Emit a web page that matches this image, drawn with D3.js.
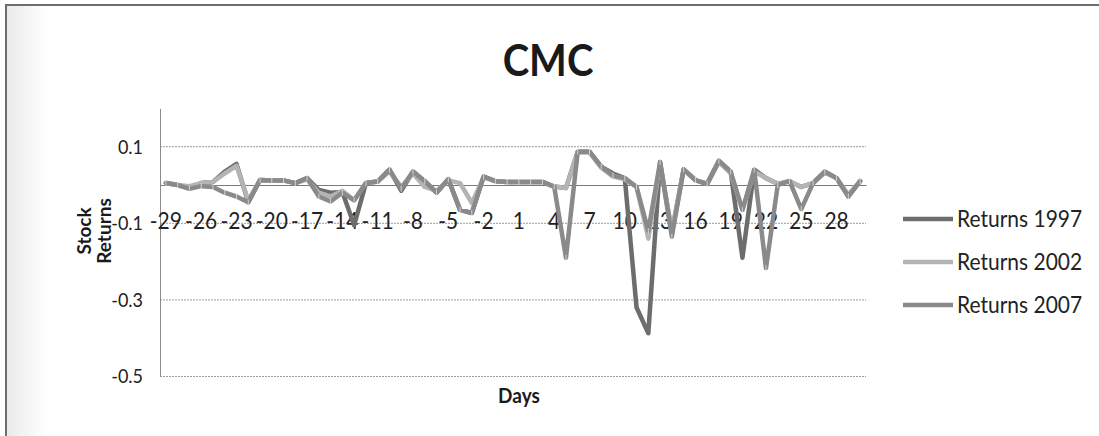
<!DOCTYPE html>
<html>
<head>
<meta charset="utf-8">
<script src="https://cdn.jsdelivr.net/npm/d3@7/dist/d3.min.js"></script>
<style>
  html, body { margin: 0; padding: 0; background: #fff; }
  svg { display: block; font-family: Lato, "Open Sans", sans-serif; }
  /* slightly tall lettering, like the printed chart */
  .tall { transform-box: fill-box; transform-origin: center; transform: scaleY(1.1); }
</style>
</head>
<body>
<svg id="chart" width="1099" height="436"></svg>
<script>
// Event-window days and the tick labels shown on the category axis
const days = [-29,-28,-27,-26,-25,-24,-23,-22,-21,-20,-19,-18,-17,-16,-15,-14,-13,-12,-11,-10,
              -9,-8,-7,-6,-5,-4,-3,-2,-1,0,1,2,3,4,5,6,7,8,9,10,
              11,12,13,14,15,16,17,18,19,20,21,22,23,24,25,26,27,28,29,30];
const xTickDays = [-29,-26,-23,-20,-17,-14,-11,-8,-5,-2,1,4,7,10,13,16,19,22,25,28];
const yTickValues = [0.1, -0.1, -0.3, -0.5];
const yTickLabels = ["0.1", "-0.1", "-0.3", "-0.5"];

// Daily stock returns per year
const returns1997 = [
  0.005, 0.000, -0.008, 0.005, 0.008, 0.035, 0.055, -0.045, 0.013, 0.012,
  0.012, 0.005, 0.018, -0.013, -0.020, -0.018, -0.105, 0.005, 0.009, 0.040,
  -0.015, 0.035, 0.010, -0.020, 0.015, -0.065, -0.073, 0.022, 0.010, 0.008,
  0.008, 0.008, 0.008, -0.004, -0.008, 0.087, 0.087, 0.048, 0.030, 0.018,
  -0.320, -0.387, 0.060, -0.125, 0.041, 0.013, 0.003, 0.063, 0.035, -0.190,
  0.040, 0.018, 0.003, 0.010, -0.005, 0.005, 0.035, 0.018, -0.030, 0.010
];
const returns2002 = [
  0.005, 0.000, -0.003, 0.005, 0.008, 0.030, 0.050, -0.040, 0.013, 0.012,
  0.012, 0.005, 0.015, -0.020, -0.030, -0.015, -0.040, 0.005, 0.009, 0.035,
  -0.005, 0.030, -0.005, -0.015, 0.012, 0.005, -0.047, 0.020, 0.010, 0.008,
  0.008, 0.008, 0.008, -0.004, -0.008, 0.085, 0.085, 0.045, 0.022, 0.015,
  -0.005, -0.140, 0.055, -0.120, 0.040, 0.012, 0.003, 0.060, 0.030, -0.065,
  0.035, 0.018, 0.003, 0.010, -0.005, 0.005, 0.032, 0.018, -0.025, 0.010
];
const returns2007 = [
  0.005, 0.000, -0.010, -0.003, -0.005, -0.020, -0.030, -0.045, 0.013, 0.012,
  0.012, 0.005, 0.018, -0.030, -0.043, -0.020, -0.040, 0.005, 0.009, 0.040,
  -0.010, 0.035, 0.010, -0.020, 0.015, -0.065, -0.073, 0.022, 0.010, 0.008,
  0.008, 0.008, 0.008, -0.004, -0.190, 0.087, 0.087, 0.048, 0.025, 0.018,
  -0.005, -0.120, 0.060, -0.135, 0.041, 0.013, 0.003, 0.063, 0.035, -0.065,
  0.040, -0.217, 0.000, 0.010, -0.063, 0.005, 0.035, 0.018, -0.030, 0.010
];

const seriesNames = ["Returns 1997", "Returns 2002", "Returns 2007"];
const seriesValues = [returns1997, returns2002, returns2007];
const seriesColors = ["#6d6d6d", "#b4b4b4", "#8a8a8a"];

const svg = d3.select("#chart");

// Faint shading along the left edge of the page
const defs = svg.append("defs");
const grad = defs.append("linearGradient").attr("id", "edgeShade")
  .attr("x1", "0").attr("x2", "1").attr("y1", "0").attr("y2", "0");
grad.append("stop").attr("offset", "0%").attr("stop-color", "#e2e2e2");
grad.append("stop").attr("offset", "100%").attr("stop-color", "#ffffff");
svg.append("rect").attr("x", 7).attr("y", 6).attr("width", 40).attr("height", 430)
  .attr("fill", "url(#edgeShade)").attr("opacity", 0.7);

// Chart frame
svg.append("rect").attr("x", 6).attr("y", 5).attr("width", 1100).attr("height", 440)
  .attr("fill", "none").attr("stroke", "#6e6e6e").attr("stroke-width", 2);

const plot = { left: 160, right: 866, top: 108.4, bottom: 376.5 };

const x = d3.scaleBand().domain(days).range([plot.left, plot.right]).padding(0);
const cx = d => x(d) + x.bandwidth() / 2;
const y = d3.scaleLinear().domain([-0.5, 0.2]).range([plot.bottom, plot.top]);

// Horizontal gridlines
svg.append("g").selectAll("line").data(yTickValues).join("line")
  .attr("x1", plot.left).attr("x2", plot.right)
  .attr("y1", d => y(d)).attr("y2", d => y(d))
  .attr("stroke", "#9c9c9c").attr("stroke-width", 1).attr("stroke-dasharray", "2,1");

// Value axis
const yAxis = d3.axisLeft(y).tickValues(yTickValues)
  .tickFormat((d, i) => yTickLabels[i]).tickSize(0).tickPadding(17);
const gy = svg.append("g").attr("transform", `translate(${plot.left},0)`).call(yAxis);
gy.select(".domain").attr("stroke", "#8a8a8a");
gy.selectAll("text").attr("class", "tall").attr("font-size", 18)
  .attr("fill", "#222").attr("font-family", "Lato, sans-serif");

// Category axis crossing at zero
const xAxis = d3.axisBottom(x).tickValues(xTickDays).tickSize(0).tickPadding(28);
const gx = svg.append("g").attr("transform", `translate(0,${y(0)})`).call(xAxis);
gx.select(".domain").attr("stroke", "#7a7a7a");
gx.selectAll("text").attr("class", "tall").attr("font-size", 21)
  .attr("fill", "#222").attr("font-family", "Lato, sans-serif");

// Series lines
const line = d3.line().x((v, i) => cx(days[i])).y(v => y(v));
const gLines = svg.append("g");
seriesValues.forEach((vals, k) => {
  gLines.append("path").datum(vals)
    .attr("d", line).attr("fill", "none")
    .attr("stroke", seriesColors[k]).attr("stroke-width", 4.5)
    .attr("stroke-linejoin", "round").attr("stroke-linecap", "round");
});

// Light point dashes on the top series
svg.append("g").selectAll("line").data(returns2007).join("line")
  .attr("x1", (v, i) => cx(days[i])).attr("x2", (v, i) => cx(days[i]))
  .attr("y1", v => y(v) - 3).attr("y2", v => y(v) + 3)
  .attr("stroke", "#f2f2f2").attr("stroke-width", 1).attr("opacity", 0.7);

// Title
svg.append("text").attr("class", "tall").attr("x", 548).attr("y", 74)
  .attr("text-anchor", "middle").attr("font-size", 40).attr("font-weight", 700)
  .attr("fill", "#1a1a1a").text("CMC");

// Axis titles
const yTitle = svg.append("g").attr("transform", "translate(100,231) rotate(-90)");
yTitle.append("text").attr("x", 0).attr("y", -9).attr("text-anchor", "middle")
  .attr("font-size", 19).attr("font-weight", 700).attr("fill", "#1a1a1a").text("Stock");
yTitle.append("text").attr("x", 0).attr("y", 11).attr("text-anchor", "middle")
  .attr("font-size", 19).attr("font-weight", 700).attr("fill", "#1a1a1a").text("Returns");

svg.append("text").attr("class", "tall").attr("x", 519).attr("y", 402)
  .attr("text-anchor", "middle").attr("font-size", 19).attr("font-weight", 700)
  .attr("fill", "#1a1a1a").text("Days");

// Legend
const legend = svg.append("g").selectAll("g").data(seriesNames).join("g")
  .attr("transform", (d, i) => `translate(903,${219 + i * 43})`);
legend.append("line").attr("x1", 0).attr("x2", 50).attr("y1", 0).attr("y2", 0)
  .attr("stroke", (d, i) => seriesColors[i]).attr("stroke-width", 4.5);
legend.append("text").attr("class", "tall").attr("x", 54).attr("y", 0).attr("dy", "0.36em")
  .attr("font-size", 21).attr("fill", "#222").text(d => d);
</script>
</body>
</html>
